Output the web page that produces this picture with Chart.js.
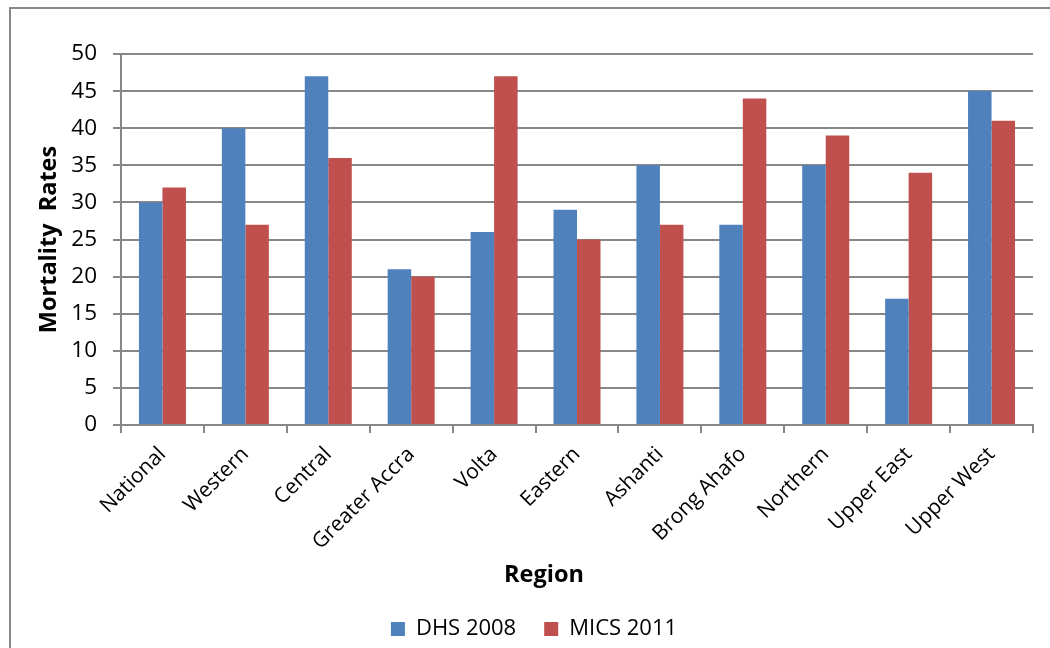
<!DOCTYPE html>
<html>
<head>
<meta charset="utf-8">
<script src="https://cdn.jsdelivr.net/npm/chart.js@4"></script>
<style>
  html, body { margin: 0; padding: 0; background: #fff; overflow: hidden; }
  #wrap { position: relative; width: 1050px; height: 648px; }
  #frame { position: absolute; left: 9px; top: 7px; width: 1100px; height: 700px;
           border: 2px solid #888; box-sizing: border-box; pointer-events: none; }
  canvas { position: absolute; left: 0; top: 0; }
</style>
</head>
<body>
<div id="wrap">
  <canvas id="c" width="1050" height="648"></canvas>
  <div id="frame"></div>
</div>
<script>
// Regions and under-five mortality rates by survey
const regions = ["National", "Western", "Central", "Greater Accra", "Volta", "Eastern",
                 "Ashanti", "Brong Ahafo", "Northern", "Upper East", "Upper West"];
const dhs2008 = [30, 40, 47, 21, 26, 29, 35, 27, 35, 17, 45];
const mics2011 = [32, 27, 36, 20, 47, 25, 27, 44, 39, 34, 41];
const seriesNames = ["DHS 2008", "MICS 2011"];
const yTicks = [0, 5, 10, 15, 20, 25, 30, 35, 40, 45, 50];
const xTitle = "Region";
const yTitle = "Mortality  Rates";

const FONT = "'Open Sans', 'DejaVu Sans', sans-serif";
const GRID = "#878787";

// Draws the x-axis title centred under the whole figure rather than the plot
const xTitlePlugin = {
  id: "xTitle",
  afterDraw(chart) {
    const ctx = chart.ctx;
    ctx.save();
    ctx.font = "bold 23.5px " + FONT;
    ctx.fillStyle = "#000";
    ctx.textAlign = "center";
    ctx.textBaseline = "middle";
    ctx.fillText(xTitle, 544, 575);
    ctx.restore();
  }
};

new Chart(document.getElementById("c"), {
  type: "bar",
  data: {
    labels: regions,
    datasets: [
      { label: seriesNames[0], data: dhs2008, backgroundColor: "#4F81BD" },
      { label: seriesNames[1], data: mics2011, backgroundColor: "#C0504D" }
    ]
  },
  plugins: [xTitlePlugin],
  options: {
    responsive: false,
    animation: false,
    events: [],
    datasets: { bar: { categoryPercentage: 0.567, barPercentage: 1.0 } },
    layout: { padding: { left: 35, top: 54, right: 17, bottom: -2 } },
    plugins: {
      tooltip: { enabled: false },
      legend: {
        position: "bottom",
        labels: {
          font: { family: FONT, size: 22 },
          color: "#000",
          boxWidth: 14,
          boxHeight: 14,
          padding: 28
        }
      }
    },
    scales: {
      x: {
        grid: { offset: true, drawOnChartArea: false, color: GRID, lineWidth: 2, tickLength: 8 },
        border: { color: GRID, width: 2 },
        ticks: { font: { family: FONT, size: 21 }, color: "#000", minRotation: 45, maxRotation: 45, padding: 9 },
        afterFit: (s) => { s.height = 165; }
      },
      y: {
        min: 0, max: 50,
        afterBuildTicks: (s) => { s.ticks = yTicks.map(v => ({ value: v })); },
        grid: { color: GRID, lineWidth: 2, tickLength: 8 },
        border: { color: GRID, width: 2 },
        ticks: { font: { family: FONT, size: 22.5 }, color: "#000", padding: 16 },
        title: { display: true, text: yTitle, font: { family: FONT, size: 23.5, weight: "bold" }, color: "#000", padding: { top: 0, bottom: 0 } },
        afterFit: (s) => { s.width = 86; }
      }
    }
  }
});
</script>
</body>
</html>
